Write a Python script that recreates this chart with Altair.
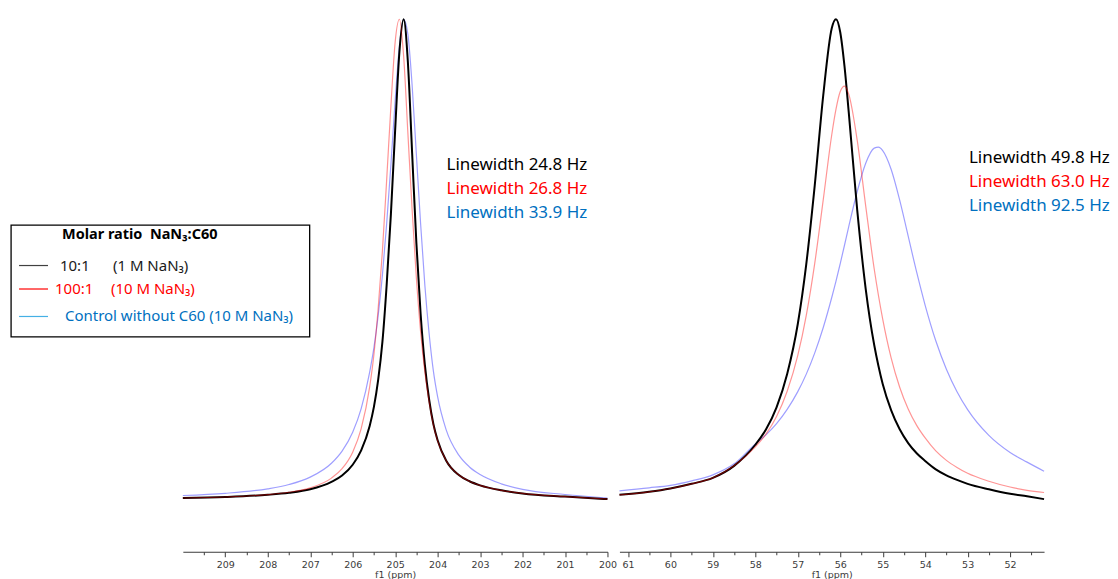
import altair as alt
import pandas as pd

# ---------------- data ----------------
series = ["10:1 (1 M NaN3)", "100:1 (10 M NaN3)", "Control without C60 (10 M NaN3)"]

# left panel (ppm) - intensity in arbitrary units
left_ppm = [210, 209, 208, 207.5, 207, 206.5, 206.25, 206, 205.8, 205.6,
            205.5, 205.4, 205.3, 205.2, 205.1, 205.0, 204.9, 204.8, 204.7, 204.6,
            204.5, 204.4, 204.3, 204.2, 204.1, 204.0, 203.8, 203.5, 203.25, 203.0,
            202.5, 202, 201, 200]
left_black = [1.7, 2.8, 5.0, 7.0, 10.5, 17.9, 24.3, 35.1, 49.5, 74,
              93, 120, 158, 215, 286, 370, 448, 481, 438, 347,
              257, 186, 135, 100.4, 75.9, 59.7, 39.4, 24.8, 18.6, 14.5,
              9.5, 6.4, 3.2, 0.7]
left_red = [1.8, 2.8, 5.2, 7.6, 12, 21.7, 31.2, 47.7, 71.2, 113,
            145.5, 191.5, 249, 320, 394, 458, 481, 444, 367, 290,
            222, 168, 128, 98, 75, 59, 39.4, 24.8, 18.6, 14.5,
            9.5, 6.4, 3.2, 0.7]
left_blue = [4.3, 6.5, 11, 15.3, 22.7, 36.6, 48.8, 67.7, 91.3, 127.9,
             152.3, 184.3, 224.9, 276.3, 335.4, 399.5, 454, 481, 466, 414.7,
             345.5, 276, 214.5, 166.5, 129, 103.2, 70.2, 44.7, 32.9, 25.3,
             16, 10.4, 5.3, 1.7]

# right panel
right_ppm = [61.2, 60.5, 60, 59.5, 59, 58.5, 58, 57.75, 57.5, 57.25,
             57, 56.8, 56.6, 56.4, 56.2, 56.1, 56.0, 55.9, 55.8, 55.6,
             55.4, 55.2, 55.1, 55.0, 54.8, 54.6, 54.4, 54.2, 54.0, 53.75,
             53.5, 53.25, 53.0, 52.5, 52, 51.6, 51.2]
right_black = [5, 8, 11.3, 16, 22, 34, 55.1, 70.4, 92.6, 126,
               176, 236, 315, 405, 472, 481, 468, 434, 388, 290,
               211, 155, 134, 116, 89.6, 70.6, 56.8, 46.6, 38.9, 30.5,
               24.5, 19.9, 16, 10.5, 6, 3.5, 0.7]
right_red = [5, 8, 11.3, 16, 22, 34, 53, 65.7, 83.4, 108.7,
             144.6, 184.6, 236.9, 300.4, 365.4, 391, 408.6, 414, 406, 359.7,
             294, 231, 204.5, 180.9, 141.8, 112.7, 90.9, 74.5, 61.9, 48.9,
             39.5, 32.4, 26.5, 18.6, 12.8, 9.5, 7.3]
right_blue = [9, 12, 14.5, 19, 25, 36, 56, 65, 76.2, 90.5,
              108.3, 125.8, 147.1, 172.5, 202.5, 218.8, 236.5, 254.8, 273.4, 308.6,
              336.9, 352, 353, 349.5, 330.6, 299.9, 263.9, 227.8, 194.7, 159.2,
              130.7, 108.2, 90.3, 64.5, 47.4, 37.7, 28.6]

left_ticks = [209.5, 209, 208.5, 208, 207.5, 207, 206.5, 206, 205.5, 205, 204.5,
              204, 203.5, 203, 202.5, 202, 201.5, 201, 200.5, 200]
right_ticks = [61, 60.5, 60, 59.5, 59, 58.5, 58, 57.5, 57, 56.5, 56, 55.5,
               55, 54.5, 54, 53.5, 53, 52.5, 52, 51.5]

left_notes = ["Linewidth 24.8 Hz", "Linewidth 26.8 Hz", "Linewidth 33.9 Hz"]
right_notes = ["Linewidth 49.8 Hz", "Linewidth 63.0 Hz", "Linewidth 92.5 Hz"]
note_colors = ["#000000", "#ff0000", "#0070c0"]

legend_title = "Molar ratio\u00a0\u00a0NaN\u2083:C60"
legend_ratio = ["10:1", "100:1", ""]
legend_detail = ["(1 M NaN\u2083)", "(10 M NaN\u2083)", "Control without C60 (10 M NaN\u2083)"]

# ---------------- styling ----------------
Y_DOMAIN = [-52, 490]
AX_GRAY = "#3a3a3a"
TXT_FONT = "Noto Sans"


def make_axis(ticks):
    return alt.Axis(
        values=ticks,
        labelExpr="datum.value % 1 === 0 ? format(datum.value, 'd') : ''",
        tickSize={"condition": {"test": "datum.value % 1 !== 0", "value": 3}, "value": 5},
        grid=False, labelFlush=False, labelOverlap=False,
        domainColor=AX_GRAY, tickColor=AX_GRAY, labelColor=AX_GRAY,
        labelFont="DejaVu Sans", labelFontSize=9.5, labelPadding=3,
        titleFont="DejaVu Sans", titleFontSize=9.5, titleFontWeight="normal",
        titleColor=AX_GRAY, titlePadding=0,
    )


def panel(ppm, black, red, blue, domain, ticks, notes, note_x, note_ys, legend=None):
    n = len(ppm)
    df = pd.DataFrame({
        "ppm": ppm * 3,
        "I": black + red + blue,
        "s": [series[0]] * n + [series[1]] * n + [series[2]] * n,
    })
    X = alt.X("ppm:Q", scale=alt.Scale(domain=domain, reverse=True, nice=False, zero=False),
              axis=make_axis(ticks), title="f1 (ppm)")
    Y = alt.Y("I:Q", scale=alt.Scale(domain=Y_DOMAIN, nice=False, zero=False), axis=None)
    base = alt.Chart(df)
    layers = []
    for name, color, width, op in [(series[2], "#0000ff", 1.2, 0.38),
                                   (series[0], "#000000", 2.0, 1.0),
                                   (series[1], "#ff0000", 1.2, 0.42)]:
        layers.append(
            base.transform_filter(alt.datum.s == name)
            .mark_line(interpolate="monotone", color=color, strokeWidth=width, strokeOpacity=op)
            .encode(x=X, y=Y)
        )
    ndf = pd.DataFrame({"ppm": [note_x] * 3, "I": note_ys, "t": notes, "c": note_colors})
    layers.append(
        alt.Chart(ndf).mark_text(align="left", baseline="middle", font=TXT_FONT, fontSize=17)
        .encode(x=X, y=Y, text="t:N", color=alt.Color("c:N", scale=None))
    )
    if legend is not None:
        layers += legend(X, Y)
    return alt.layer(*layers).properties(width=425, height=542)


def legend_layers(X, Y):
    box = pd.DataFrame({"ppm": [214.045], "ppm2": [207.013], "I": [275], "I2": [163]})
    out = [alt.Chart(box).mark_rect(fill="white", stroke="black", strokeWidth=1.3)
           .encode(x=X, x2="ppm2:Q", y=Y, y2="I2:Q")]
    tdf = pd.DataFrame({"ppm": [212.846], "I": [265], "t": [legend_title]})
    out.append(alt.Chart(tdf).mark_text(align="left", baseline="middle", font=TXT_FONT,
                                        fontSize=14.5, fontWeight="bold", color="black")
               .encode(x=X, y=Y, text="t:N"))
    row_y = [234.5, 211, 183.5]
    sym = pd.DataFrame({"ppm": [213.857] * 3, "ppm2": [213.175] * 3, "I": row_y,
                        "c": ["#404040", "#ff0000", "#45b0e5"]})
    out.append(alt.Chart(sym).mark_rule(strokeWidth=1.2)
               .encode(x=X, x2="ppm2:Q", y=Y, color=alt.Color("c:N", scale=None)))
    lab = pd.DataFrame({
        "ppm": [212.893, 211.646, 213.010, 211.693, 212.775],
        "I": [row_y[0], row_y[0], row_y[1], row_y[1], row_y[2]],
        "t": [legend_ratio[0], legend_detail[0], legend_ratio[1], legend_detail[1], legend_detail[2]],
        "c": ["#1a1a1a", "#1a1a1a", "#ff0000", "#ff0000", "#0070c0"],
    })
    out.append(alt.Chart(lab).mark_text(align="left", baseline="middle", font=TXT_FONT, fontSize=15)
               .encode(x=X, y=Y, text="t:N", color=alt.Color("c:N", scale=None)))
    return out


left = panel(left_ppm, left_black, left_red, left_blue, [200, 210], left_ticks,
             left_notes, 203.791, [335, 311, 287], legend=legend_layers)
right = panel(right_ppm, right_black, right_red, right_blue, [51.2, 61.2], right_ticks,
              right_notes, 52.969, [342, 318, 294])

chart = (
    alt.hconcat(left, right, spacing=12, bounds="flush")
    .properties(padding={"left": 2, "top": 2, "right": 0, "bottom": 0})
    .configure_view(strokeWidth=0)
)

chart.save("out.html", embed_options={"renderer": "svg", "actions": False})
